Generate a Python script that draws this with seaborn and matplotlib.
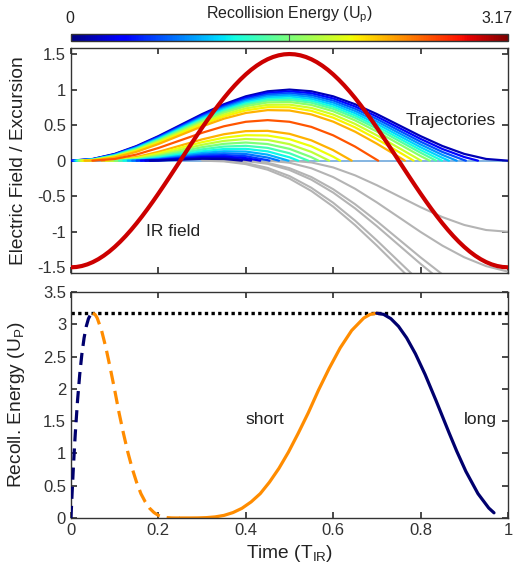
import matplotlib
matplotlib.use("Agg")
import matplotlib.pyplot as plt
import seaborn as sns
from matplotlib.cm import ScalarMappable
from matplotlib.colors import Normalize

# ============================================================
# Data
# ============================================================

# IR field, sampled every 1/80 of a period
field_t = [0.0, 0.0125, 0.025, 0.0375, 0.05, 0.0625, 0.075, 0.0875, 0.1, 0.1125,
           0.125, 0.1375, 0.15, 0.1625, 0.175, 0.1875, 0.2, 0.2125, 0.225, 0.2375,
           0.25, 0.2625, 0.275, 0.2875, 0.3, 0.3125, 0.325, 0.3375, 0.35, 0.3625,
           0.375, 0.3875, 0.4, 0.4125, 0.425, 0.4375, 0.45, 0.4625, 0.475, 0.4875,
           0.5, 0.5125, 0.525, 0.5375, 0.55, 0.5625, 0.575, 0.5875, 0.6, 0.6125,
           0.625, 0.6375, 0.65, 0.6625, 0.675, 0.6875, 0.7, 0.7125, 0.725, 0.7375,
           0.75, 0.7625, 0.775, 0.7875, 0.8, 0.8125, 0.825, 0.8375, 0.85, 0.8625,
           0.875, 0.8875, 0.9, 0.9125, 0.925, 0.9375, 0.95, 0.9625, 0.975, 0.9875, 1.0]
field_E = [-1.5, -1.4954, -1.4815, -1.4586, -1.4266, -1.3858, -1.3365, -1.279, -1.2135, -1.1406,
           -1.0607, -0.9742, -0.8817, -0.7837, -0.681, -0.574, -0.4635, -0.3502, -0.2347, -0.1177,
           0.0, 0.1177, 0.2347, 0.3502, 0.4635, 0.574, 0.681, 0.7837, 0.8817, 0.9742,
           1.0607, 1.1406, 1.2135, 1.279, 1.3365, 1.3858, 1.4266, 1.4586, 1.4815, 1.4954,
           1.5, 1.4954, 1.4815, 1.4586, 1.4266, 1.3858, 1.3365, 1.279, 1.2135, 1.1406,
           1.0607, 0.9742, 0.8817, 0.7837, 0.681, 0.574, 0.4635, 0.3502, 0.2347, 0.1177,
           0.0, -0.1177, -0.2347, -0.3502, -0.4635, -0.574, -0.681, -0.7837, -0.8817, -0.9742,
           -1.0607, -1.1406, -1.2135, -1.279, -1.3365, -1.3858, -1.4266, -1.4586, -1.4815, -1.4954, -1.5]

# common time grid for the trajectories
grid_t = [0.0, 0.05, 0.1, 0.15, 0.2, 0.25, 0.3, 0.35, 0.4, 0.45, 0.5,
          0.55, 0.6, 0.65, 0.7, 0.75, 0.8, 0.85, 0.9, 0.95, 1.0]

# long trajectories: birth time, return time, excursion between them
long_t0 = [0.0, 0.0025, 0.005, 0.0075, 0.01, 0.0125, 0.015, 0.018, 0.022, 0.026, 0.031, 0.049]
long_tr = [1.0, 0.9313, 0.9036, 0.8826, 0.8648, 0.849, 0.8353, 0.821, 0.801, 0.784, 0.764, 0.703]
long_x = [
    [.024, .095, .206, .345, .5, .655, .794, .905, .976, 1.0, .976, .905, .794, .655, .5, .345, .206, .095, .024],
    [.0221, .0906, .1988, .3357, .4877, .6398, .7767, .8848, .9534, .9754, .9484, .875, .7619, .62, .4631, .3061, .1642, .0511],
    [.0198, .0859, .1915, .326, .4756, .6252, .7596, .8653, .9313, .9509, .9215, .8455, .73, .5857, .4262, .2668, .1225, .0069],
    [.0177, .0813, .1845, .3165, .4636, .6107, .7427, .8459, .9095, .9266, .8947, .8163, .6983, .5515, .3896, .2277, .0809],
    [.0156, .0768, .1775, .307, .4517, .5963, .7259, .8266, .8877, .9024, .868, .7871, .6667, .5174, .353, .1887, .0394],
    [.0137, .0724, .1707, .2977, .4399, .5821, .7092, .8074, .8661, .8783, .8415, .7581, .6352, .4835, .3167, .1499],
    [.0119, .0682, .164, .2886, .4283, .568, .6926, .7885, .8447, .8544, .8151, .7293, .604, .4498, .2805, .1112],
    [.01, .0632, .1561, .2778, .4146, .5513, .673, .7659, .8191, .8259, .7837, .695, .5666, .4095, .2373, .065],
    [.0076, .057, .1459, .2637, .3965, .5294, .6472, .7361, .7855, .7883, .7422, .6495, .5173, .3562, .1801, .0039],
    [.0056, .0511, .1361, .2499, .3789, .5078, .6217, .7068, .7522, .7512, .7011, .6046, .4684, .3035, .1234],
    [.0035, .0441, .1243, .2333, .3574, .4815, .5905, .6707, .7113, .7054, .6505, .5491, .4081, .2383, .0534],
    [.0, .0234, .0864, .1782, .2851, .392, .4838, .5468, .5702, .5471, .475, .3564, .1982, .0112],
]
long_level = [0.05, 0.13, 0.2, 0.27, 0.33, 0.38, 0.45, 0.52, 0.6, 0.65, 0.72, 0.82]

# short trajectories
short_t0 = [0.07, 0.08, 0.09, 0.1, 0.11, 0.12, 0.13, 0.14, 0.15, 0.16, 0.17, 0.18]
short_tr = [0.6423, 0.616, 0.5908, 0.5665, 0.543, 0.52, 0.4977, 0.4759, 0.4542, 0.4331, 0.4122, 0.3912]
short_x = [
    [.0078, .0515, .124, .2116, .2993, .3718, .4155, .4196, .3772, .2859, .148],
    [.0034, .0383, .102, .1809, .2597, .3234, .3583, .3537, .3025, .2023, .0557],
    [.0008, .0273, .0825, .1528, .2232, .2784, .3048, .2917, .232, .1233],
    [.0183, .0654, .1275, .1897, .2368, .2551, .2337, .1659, .0491],
    [.0113, .0505, .1049, .1593, .1986, .209, .1799, .1043],
    [.0061, .0379, .0849, .1319, .1638, .1668, .1303, .0473],
    [.0026, .0275, .0675, .1074, .1324, .1284, .0849],
    [.0006, .019, .0524, .0859, .1043, .0939, .0438],
    [.0123, .0397, .0672, .0795, .063, .0069],
    [.0073, .0292, .0511, .0578, .0358],
    [.0038, .0206, .0375, .0392, .0122],
    [.0015, .0139, .0263, .0235],
]
short_level = [0.72, 0.64, 0.58, 0.5, 0.43, 0.37, 0.3, 0.24, 0.18, 0.12, 0.08, 0.04]

# electrons born after the field peak never come back
free_t0 = [0.3, 0.325, 0.375, 0.39, 0.445, 0.5]
free_x = [
    [-.01, -.0488, -.1272, -.2521, -.426, -.6464, -.9064, -1.1951, -1.499, -1.8029],
    [-.0031, -.0325, -.1014, -.2169, -.3813, -.5923, -.8428, -1.1222, -1.4167, -1.7111],
    [-.0046, -.0447, -.1312, -.2668, -.4489, -.6705, -.9211, -1.1866, -1.4522, -1.7026],
    [-.0008, -.0299, -.1055, -.2302, -.4013, -.612, -.8515, -1.1062, -1.3608, -1.6003],
    [-.0003, -.029, -.1067, -.2309, -.3947, -.5873, -.795, -1.0027, -1.1953, -1.3591, -1.4833, -1.5611],
    [-.0245, -.0955, -.2061, -.3455, -.5, -.6545, -.7939, -.9045, -.9755, -1.0],
]

# recollision energy (Up) vs ionization / return time
long_ion_t = [0.0, 0.0005, 0.001, 0.0025, 0.005, 0.0075, 0.01, 0.015, 0.02, 0.025, 0.03, 0.035, 0.04, 0.045, 0.05]
long_ret_t = [1.0, 0.968, 0.956, 0.9313, 0.9036, 0.8826, 0.8648, 0.8353, 0.8103, 0.7882, 0.7681, 0.7495, 0.732, 0.7155, 0.6997]
long_E = [0.0, 0.08, 0.154, 0.377, 0.722, 1.036, 1.325, 1.819, 2.223, 2.543, 2.789, 2.968, 3.087, 3.153, 3.172]

short_ion_t = [0.05, 0.055, 0.06, 0.07, 0.08, 0.09, 0.1, 0.11, 0.12, 0.13, 0.14,
               0.15, 0.16, 0.17, 0.18, 0.19, 0.2, 0.21, 0.22, 0.23, 0.24, 0.25]
short_ret_t = [0.6997, 0.6846, 0.67, 0.6423, 0.616, 0.5908, 0.5665, 0.543, 0.52, 0.4977, 0.4759,
               0.4542, 0.4331, 0.4122, 0.3912, 0.3708, 0.3501, 0.33, 0.31, 0.29, 0.27, 0.25]
short_E = [3.172, 3.153, 3.097, 2.904, 2.634, 2.317, 1.982, 1.629, 1.312, 1.021, 0.769,
           0.555, 0.377, 0.249, 0.15, 0.084, 0.04, 0.017, 0.0055, 0.001, 0.0, 0.0]

cutoff = 3.17

# ============================================================
# Style
# ============================================================

sns.set_theme(style="ticks")
plt.rcParams["font.family"] = ["Liberation Sans", "DejaVu Sans"]
plt.rcParams.update({
    "mathtext.default": "regular",
    "axes.edgecolor": "#333333",
    "axes.linewidth": 1.0,
    "xtick.direction": "in",
    "ytick.direction": "in",
    "xtick.top": True,
    "ytick.right": True,
    "xtick.major.size": 4,
    "ytick.major.size": 4,
    "xtick.color": "#333333",
    "ytick.color": "#333333",
    "xtick.labelsize": 12,
    "ytick.labelsize": 12,
    "axes.labelsize": 13.8,
    "text.color": "#222222",
    "axes.labelcolor": "#222222",
})

jet = matplotlib.colormaps["jet"]
navy = "#00006E"
orange = "#FF8C00"


def line(ax, x, y, **kw):
    sns.lineplot(x=x, y=y, ax=ax, sort=False, estimator=None, legend=False, **kw)


fig = plt.figure(figsize=(5.25, 5.74), dpi=100)
ax1 = fig.add_axes([0.1352, 0.5244, 0.8324, 0.3920])
ax2 = fig.add_axes([0.1352, 0.0976, 0.8324, 0.3937])
cax = fig.add_axes([0.1352, 0.9286, 0.8324, 0.0122])

# ============================================================
# Top panel: field and trajectories
# ============================================================

ax1.axhline(0, color="#6FA8DC", lw=1.2, zorder=1)

for t0, xs in zip(free_t0, free_x):
    ts = [t for t in grid_t if t > t0][:len(xs)]
    line(ax1, [t0] + ts, [0] + xs, color="#B4B4B4", lw=1.5, zorder=2)

for t0, tr, xs, lvl in zip(short_t0, short_tr, short_x, short_level):
    ts = [t for t in grid_t if t0 < t < tr]
    line(ax1, [t0] + ts + [tr], [0] + xs + [0], color=jet(lvl), lw=1.6, zorder=3)

for t0, tr, xs, lvl in zip(long_t0, long_tr, long_x, long_level):
    ts = [t for t in grid_t if t0 < t < tr]
    line(ax1, [t0] + ts + [tr], [0] + xs + [0], color=jet(lvl), lw=1.6, zorder=4)

line(ax1, field_t, field_E, color="#CC0000", lw=3, zorder=5)

ax1.text(0.172, -1.0, "IR field", fontsize=12.5, va="center", ha="left")
ax1.text(0.766, 0.57, "Trajectories", fontsize=12.5, va="center", ha="left")

ax1.set_xlim(0, 1)
ax1.set_ylim(-1.58, 1.585)
ax1.set_xticks([0, 0.2, 0.4, 0.6, 0.8, 1.0])
ax1.set_xticklabels([])
ax1.set_yticks([-1.5, -1, -0.5, 0, 0.5, 1, 1.5])
ax1.set_yticklabels(["-1.5", "-1", "-0.5", "0", "0.5", "1", "1.5"])
ax1.set_ylabel("Electric Field / Excursion")
ax1.yaxis.set_label_coords(-0.1, 0.5)

# ============================================================
# Bottom panel: recollision energy
# ============================================================

ax2.axhline(cutoff, color="black", lw=2.4, linestyle=(0, (1, 1)), zorder=1)

line(ax2, long_ion_t, long_E, color=navy, lw=2.3, linestyle=(0, (3.8, 2.2)), zorder=3)
line(ax2, short_ion_t, short_E, color=orange, lw=2.3, linestyle=(0, (4.2, 2.2)), zorder=2)
line(ax2, short_ret_t, short_E, color=orange, lw=2.3, zorder=2)
line(ax2, long_ret_t[1:], long_E[1:], color=navy, lw=2.3, zorder=3)

ax2.text(0.40, 1.52, "short", fontsize=12.5, va="center", ha="left")
ax2.text(0.90, 1.52, "long", fontsize=12.5, va="center", ha="left")

ax2.set_xlim(0, 1)
ax2.set_ylim(0, 3.5)
ax2.set_xticks([0, 0.2, 0.4, 0.6, 0.8, 1.0])
ax2.set_xticklabels(["0", "0.2", "0.4", "0.6", "0.8", "1"])
ax2.set_yticks([0, 0.5, 1, 1.5, 2, 2.5, 3, 3.5])
ax2.set_yticklabels(["0", "0.5", "1", "1.5", "2", "2.5", "3", "3.5"])
ax2.set_xlabel("Time (T$_{IR}$)", labelpad=4)
ax2.set_ylabel("Recoll. Energy (U$_P$)")
ax2.yaxis.set_label_coords(-0.1, 0.5)

# ============================================================
# Colour bar
# ============================================================

sm = ScalarMappable(norm=Normalize(0, cutoff), cmap=jet)
cb = fig.colorbar(sm, cax=cax, orientation="horizontal")
cb.set_ticks([])
cb.outline.set_linewidth(1.0)
cb.outline.set_edgecolor("#333333")
cax.axvline(cutoff / 2, color="#555555", lw=0.8)

fig.text(0.551, 0.975, "Recollision Energy (U$_p$)", fontsize=11.5, ha="center", va="center")
fig.text(0.133, 0.968, "0", fontsize=11.5, ha="center", va="center")
fig.text(0.976, 0.968, "3.17", fontsize=11.5, ha="right", va="center")

fig.savefig("out.png", dpi=100)
plt.close(fig)
